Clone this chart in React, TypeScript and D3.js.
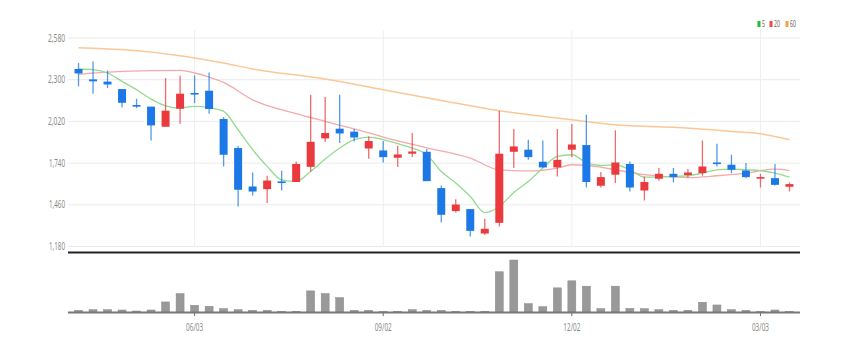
import React from "react";
import * as d3 from "d3";

// weekly candles, Apr 2024 - Mar 2025
const dates = [
  "04/08", "04/15", "04/22", "04/29", "05/06", "05/13", "05/20", "05/27", "06/03", "06/10",
  "06/17", "06/24", "07/01", "07/08", "07/15", "07/22", "07/29", "08/05", "08/12", "08/19",
  "08/26", "09/02", "09/09", "09/16", "09/23", "09/30", "10/07", "10/14", "10/21", "10/28",
  "11/04", "11/11", "11/18", "11/25", "12/02", "12/09", "12/16", "12/23", "12/30", "01/06",
  "01/13", "01/20", "01/27", "02/03", "02/10", "02/17", "02/24", "03/03", "03/10", "03/17",
];

const open = [2372, 2302, 2287, 2237, 2130, 2119, 1984, 2105, 2211, 2226, 2036, 1841, 1583, 1565, 1617, 1613, 1715, 1906, 1971, 1951, 1838, 1825, 1776, 1803, 1816, 1572, 1418, 1431, 1267, 1339, 1816, 1830, 1749, 1711, 1830, 1861, 1588, 1662, 1734, 1556, 1635, 1668, 1660, 1673, 1744, 1729, 1690, 1637, 1639, 1581];
const close = [2342, 2289, 2268, 2145, 2121, 1993, 2092, 2206, 2201, 2103, 1796, 1561, 1549, 1623, 1606, 1734, 1883, 1942, 1939, 1912, 1888, 1780, 1798, 1818, 1619, 1393, 1462, 1285, 1299, 1803, 1852, 1780, 1711, 1762, 1865, 1613, 1646, 1744, 1576, 1613, 1668, 1646, 1677, 1717, 1733, 1695, 1646, 1646, 1594, 1599];
const high = [2412, 2423, 2362, 2237, 2172, 2119, 2311, 2327, 2329, 2349, 2049, 1856, 1677, 1655, 1688, 1751, 2199, 2184, 2199, 1969, 1919, 1888, 1856, 1942, 1834, 1590, 1498, 1431, 1366, 2092, 1969, 1897, 1892, 1969, 2002, 2065, 1680, 1960, 1751, 1650, 1707, 1707, 1700, 1892, 1870, 1796, 1740, 1668, 1734, 1610];
const low = [2255, 2206, 2244, 2114, 2110, 1892, 1984, 2004, 2143, 2072, 1717, 1449, 1522, 1472, 1556, 1613, 1684, 1881, 1875, 1885, 1769, 1744, 1713, 1781, 1619, 1341, 1408, 1247, 1258, 1314, 1707, 1762, 1711, 1650, 1781, 1576, 1576, 1606, 1549, 1489, 1621, 1610, 1643, 1655, 1717, 1673, 1639, 1576, 1590, 1549];

// volume, thousand shares
const volume = [5, 7, 7, 6, 3, 6, 30, 55, 20, 17, 10, 7, 5, 5, 2, 2, 63, 55, 43, 5, 5, 1, 2, 7, 5, 5, 2, 2, 2, 120, 155, 25, 16, 72, 93, 77, 10, 77, 11, 10, 7, 5, 5, 29, 21, 7, 5, 1, 6, 1];

// moving averages
const ma5 = [2372, 2367, 2345, 2289, 2233, 2170, 2125, 2110, 2121, 2112, 2087, 1964, 1830, 1718, 1628, 1617, 1684, 1767, 1841, 1897, 1915, 1897, 1870, 1841, 1796, 1684, 1606, 1516, 1408, 1449, 1543, 1617, 1707, 1785, 1796, 1744, 1724, 1729, 1695, 1646, 1646, 1650, 1655, 1673, 1695, 1700, 1695, 1690, 1673, 1646];
const ma20At = [0, 3, 7, 8, 9, 10, 12, 15, 17, 19, 21, 24, 27, 29, 31, 33, 34, 36, 37, 39, 42, 44, 46, 48, 49];
const ma20 = [2336, 2356, 2363, 2345, 2318, 2282, 2165, 2072, 2020, 1969, 1915, 1843, 1774, 1695, 1688, 1707, 1729, 1713, 1695, 1662, 1643, 1655, 1673, 1700, 1690];
const ma60At = [0, 3, 7, 10, 12, 17, 21, 25, 29, 34, 37, 41, 45, 47, 49];
const ma60 = [2515, 2502, 2461, 2412, 2372, 2305, 2233, 2161, 2092, 2031, 1998, 1980, 1953, 1937, 1897];

const priceTicks = [1180, 1460, 1740, 2020, 2300, 2580];
const dateTicks = ["06/03", "09/02", "12/02", "03/03"];

const W = 850;
const H = 351;
const UP = "#ea3a3e";
const DOWN = "#1b78e6";

export default function App() {
  const x = d3.scaleBand<string>().domain(dates).range([68, 800]).padding(0.45);
  const cx = (i: number) => (x(dates[i]) ?? 0) + x.bandwidth() / 2;
  const y = d3.scaleLinear().domain([1180, 2580]).range([246.5, 38]);
  const yv = d3.scaleLinear().domain([0, 170]).range([312, 255]);

  const line = d3
    .line<[number, number]>()
    .x((d) => cx(d[0]))
    .y((d) => y(d[1]))
    .curve(d3.curveMonotoneX);

  const ma5Path = line(ma5.map((v, i) => [i, v]));
  const ma20Path = line(ma20.map((v, k) => [ma20At[k], v]));
  const ma60Path = line(ma60.map((v, k) => [ma60At[k], v]));

  const font = "'Noto Sans', sans-serif";

  return (
    <svg
      width={W}
      height={H}
      style={{ position: "absolute", left: 0, top: 0, display: "block", background: "#fff" }}
      fontFamily={font}
    >
      {/* grid */}
      {priceTicks.map((t) => (
        <g key={t}>
          <line x1={68} x2={800} y1={y(t)} y2={y(t)} stroke="#ebebeb" strokeWidth={1} />
          <text
            x={65}
            y={y(t) + 3.5}
            textAnchor="end"
            fontSize={11}
            fill="#8a8a8a"
            textLength={t === 1180 || t === 1460 || t === 1740 ? 16 : 17}
            lengthAdjust="spacingAndGlyphs"
          >
            {d3.format(",")(t)}
          </text>
        </g>
      ))}
      {dateTicks.map((d) => (
        <g key={d}>
          <line x1={cx(dates.indexOf(d))} x2={cx(dates.indexOf(d))} y1={30} y2={246.5} stroke="#efefef" />
          <line x1={cx(dates.indexOf(d))} x2={cx(dates.indexOf(d))} y1={312} y2={316} stroke="#666" />
          <text
            x={cx(dates.indexOf(d))}
            y={331}
            textAnchor="middle"
            fontSize={11}
            fill="#8a8a8a"
            textLength={17}
            lengthAdjust="spacingAndGlyphs"
          >
            {d}
          </text>
        </g>
      ))}

      {/* moving averages */}
      <path d={ma60Path ?? ""} fill="none" stroke="#fbc796" strokeWidth={1.5} />
      <path d={ma20Path ?? ""} fill="none" stroke="#f5a9ab" strokeWidth={1.3} />
      <path d={ma5Path ?? ""} fill="none" stroke="#93db8f" strokeWidth={1.3} />

      {/* candles */}
      {dates.map((d, i) => {
        const up = close[i] >= open[i];
        const c = up ? UP : DOWN;
        const top = y(Math.max(open[i], close[i]));
        const bot = y(Math.min(open[i], close[i]));
        return (
          <g key={d}>
            <line x1={cx(i)} x2={cx(i)} y1={y(high[i])} y2={y(low[i])} stroke={c} strokeOpacity={0.75} strokeWidth={1.3} />
            <rect x={x(d)} y={top} width={x.bandwidth()} height={Math.max(bot - top, 1.6)} fill={c} />
          </g>
        );
      })}

      {/* panel separator */}
      <line x1={68} x2={800} y1={252.5} y2={252.5} stroke="#222" strokeWidth={2} />

      {/* volume */}
      {dates.map((d, i) => (
        <rect
          key={d}
          x={x(d)}
          y={yv(volume[i])}
          width={x.bandwidth()}
          height={312 - yv(volume[i])}
          fill="#999"
          stroke="#8a8a8a"
          strokeWidth={0.5}
        />
      ))}
      <line x1={68} x2={800} y1={312.5} y2={312.5} stroke="#777" strokeWidth={2} />

      {/* legend */}
      {[
        { label: "5", color: "#2eb82e", x: 757.5, w: 3 },
        { label: "20", color: "#f04848", x: 769.5, w: 6 },
        { label: "60", color: "#f5a04a", x: 785.5, w: 6 },
      ].map((l) => (
        <g key={l.label}>
          <rect x={l.x} y={21} width={3} height={6} fill={l.color} />
          <text
            x={l.x + 4.5}
            y={27}
            fontSize={9}
            fill="#666"
            textLength={l.w}
            lengthAdjust="spacingAndGlyphs"
          >
            {l.label}
          </text>
        </g>
      ))}
    </svg>
  );
}
